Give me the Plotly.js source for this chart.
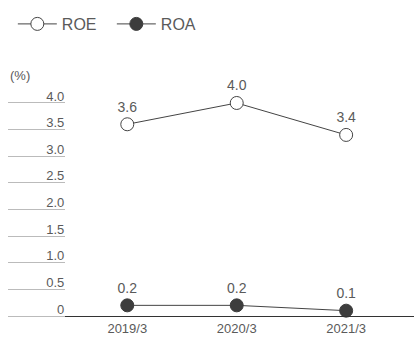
<!DOCTYPE html>
<html><head><meta charset="utf-8">
<script src="https://cdn.plot.ly/plotly-3.0.1.min.js"></script>
<style>html,body{margin:0;padding:0;background:#fff}#c{width:414px;height:338px}</style>
</head><body><div id="c"></div>
<script>
const categories = ["2019/3", "2020/3", "2021/3"];
const roe = [3.6, 4.0, 3.4];
const roa = [0.2, 0.2, 0.1];
const tickVals = [0, 0.5, 1.0, 1.5, 2.0, 2.5, 3.0, 3.5, 4.0];
const tickText = ["0", "0.5", "1.0", "1.5", "2.0", "2.5", "3.0", "3.5", "4.0"];

const txtColor = "#5a5a5a";
const font = "Liberation Sans, Arial, sans-serif";

const traces = [
  {x: categories, y: roe, name: "ROE", type: "scatter", mode: "lines+markers+text",
   text: roe.map(v => v.toFixed(1)), textposition: "top center",
   textfont: {family: font, size: 14, color: txtColor},
   line: {color: "#444", width: 1},
   marker: {size: 13, color: "#fff", line: {color: "#444", width: 1}},
   cliponaxis: false},
  {x: categories, y: roa, name: "ROA", type: "scatter", mode: "lines+markers+text",
   text: roa.map(v => v.toFixed(1)), textposition: "top center",
   textfont: {family: font, size: 14, color: txtColor},
   line: {color: "#444", width: 1},
   marker: {size: 13, color: "#3d3d3d", line: {color: "#3d3d3d", width: 1}},
   cliponaxis: false}
];

const layout = {
  width: 414, height: 338,
  margin: {l: 8, r: 0, t: 87, b: 22},
  paper_bgcolor: "#fff", plot_bgcolor: "#fff",
  font: {family: font, color: txtColor},
  showlegend: true,
  legend: {orientation: "h", xref: "container", yref: "container",
           x: 0.031, xanchor: "left", y: 0.929, yanchor: "middle",
           itemwidth: 39, entrywidth: 45, entrywidthmode: "pixels",
           font: {family: font, size: 16, color: txtColor}},
  xaxis: {type: "category", range: [-1.09, 2.62], showgrid: false, zeroline: false,
          showline: true, linecolor: "#333", linewidth: 1, ticks: "",
          tickfont: {family: font, size: 13, color: txtColor}, anchor: "y"},
  yaxis: {range: [0, 4.3], anchor: "free", position: 0.14, showgrid: false, zeroline: false,
          showline: false, tickvals: tickVals, ticktext: tickText,
          ticks: "outside", ticklen: 57, tickcolor: "#bbb", tickwidth: 1,
          ticklabelstandoff: -59, ticklabelshift: -7,
          tickfont: {family: font, size: 13, color: txtColor}},
  annotations: [{text: "(%)", xref: "paper", yref: "paper", x: 0, y: 1.052,
                 xanchor: "left", yanchor: "middle", showarrow: false,
                 font: {family: font, size: 13, color: txtColor}}]
};
Plotly.newPlot("c", traces, layout, {displayModeBar: false, staticPlot: true});
</script></body></html>
